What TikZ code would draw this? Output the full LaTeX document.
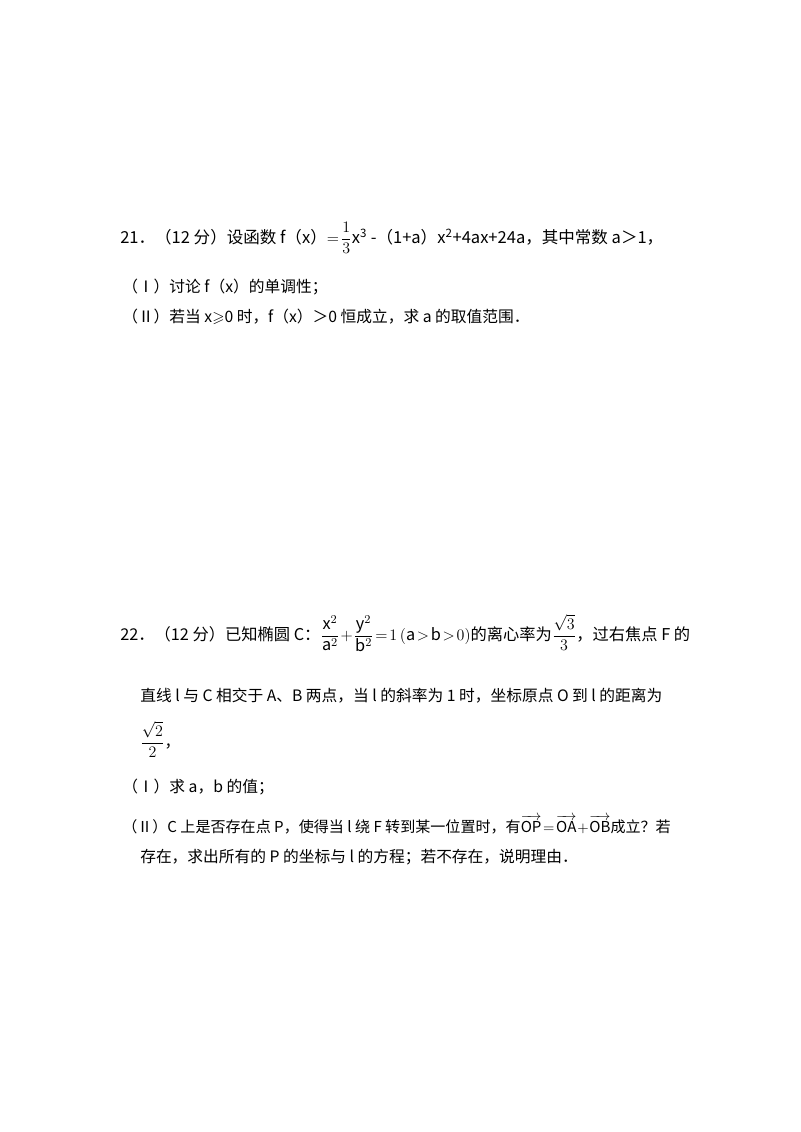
\documentclass[tikz,border=0pt]{standalone}
\usepackage{amsmath,amssymb}
\usepackage{fontspec}
\setmainfont{Noto Sans CJK SC}
\tikzset{txt/.style={anchor=base west,inner sep=0pt,font=\fontsize{11.8}{14}\selectfont}}
\begin{document}
\begin{tikzpicture}[x=0.75pt,y=-0.75pt]
\useasboundingbox[fill=white] (0,0) rectangle (800,1132);
\node[txt,font=\fontsize{12.4}{14}\selectfont] (q21) at (120,243) {21．（12 分）设函数 f（x）$=\!\dfrac{1}{3}$x\textsuperscript{3} -（1+a）x\textsuperscript{2}+4ax+24a，其中常数 a＞1，};
\node[txt] (q21a) at (122,292) {（Ⅰ）讨论 f（x）的单调性；};
\node[txt] (q21b) at (122,322) {（Ⅱ）若当 x$\geqslant$0 时，f（x）＞0 恒成立，求 a 的取值范围．};
\node[txt,font=\fontsize{12.2}{14}\selectfont] (q22) at (120,640) {22．（12 分）已知椭圆 $\mathrm{C}$：$\dfrac{\mathrm{x}^2}{\mathrm{a}^2}\!+\!\dfrac{\mathrm{y}^2}{\mathrm{b}^2}\!=\!1\,(\mathrm{a}\!>\!\mathrm{b}\!>\!0)$的离心率为$\dfrac{\sqrt3}{3}$，过右焦点 F 的};
\node[txt] (q22l2) at (140,701) {直线 l 与 C 相交于 A、B 两点，当 l 的斜率为 1 时，坐标原点 O 到 l 的距离为};
\node[txt] (q22l3) at (140,747) {$\dfrac{\sqrt2}{2}$，};
\node[txt] (q22a) at (122,792) {（Ⅰ）求 a，b 的值；};
\node[txt,font=\fontsize{11.3}{14}\selectfont] (q22b) at (122,832) {（Ⅱ）C 上是否存在点 P，使得当 l 绕 F 转到某一位置时，有$\overrightarrow{\mathrm{OP}}\!=\!\overrightarrow{\mathrm{OA}}\!+\!\overrightarrow{\mathrm{OB}}$成立？若};
\node[txt] (q22c) at (140,862) {存在，求出所有的 P 的坐标与 l 的方程；若不存在，说明理由．};
\end{tikzpicture}
\end{document}
